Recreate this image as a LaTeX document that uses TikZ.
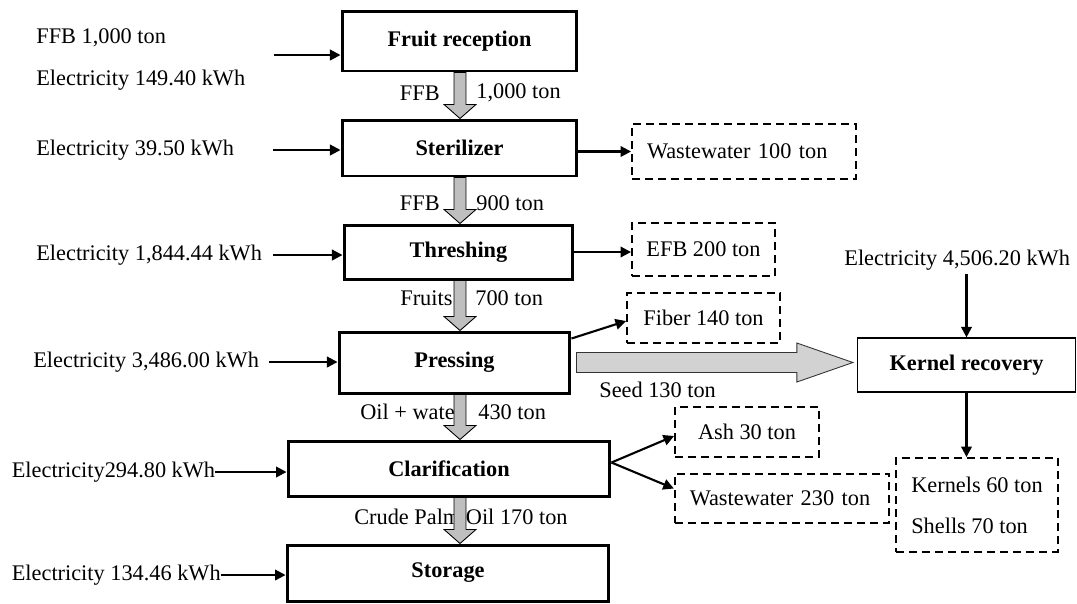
\documentclass[tikz,border=0pt]{standalone}
\usepackage{fontspec}
\setmainfont{Liberation Serif}
\usepackage{tikz}
\usetikzlibrary{arrows.meta, calc}

\newcommand{\flowfont}{\fontsize{12.7}{15}\selectfont}

\begin{document}
\begin{tikzpicture}[x=0.02cm, y=-0.02cm,
    lbl/.style={font=\flowfont, inner sep=0pt},
    proc/.style={draw, line width=1.7pt, font=\flowfont\bfseries, inner sep=0pt},
    waste/.style={draw, dash pattern=on 4.6pt off 2.8pt, line width=1.1pt,
        font=\flowfont, inner sep=0pt},
    feed/.style={line width=1.2pt, -{Triangle[length=6pt, width=6pt]}},
    flowdown/.style={draw=black, line width=0.5pt, fill=gray!50,
        to path={let \p1=(\tikztostart), \p2=(\tikztotarget) in
            (\x1-3.4pt,\y1) -- (\x1+3.4pt,\y1) -- (\x1+3.4pt,\y2+8pt)
            -- (\x1+9.1pt,\y2+8pt) -- (\x1,\y2) -- (\x1-9.1pt,\y2+8pt)
            -- (\x1-3.4pt,\y2+8pt) -- cycle}},
    flowright/.style={draw=black!80, line width=0.5pt, fill=gray!35,
        to path={let \p1=(\tikztostart), \p2=(\tikztotarget) in
            (\x1,\y1+5.7pt) -- (\x2-31.9pt,\y1+5.7pt) -- (\x2-31.9pt,\y1+11.1pt)
            -- (\x2,\y1) -- (\x2-31.9pt,\y1-11.1pt) -- (\x2-31.9pt,\y1-5.7pt)
            -- (\x1,\y1-5.7pt) -- cycle}}]

    \fill[white] (0,0) rectangle (1077,603);
    \useasboundingbox (0,0) rectangle (1077,603);

    % ============================================================
    % PROCESS STEPS
    % ============================================================
    \node[proc, minimum width=4.70cm, minimum height=1.20cm] (reception) at (459.5,41) {Fruit reception};
    \node[proc, minimum width=4.70cm, minimum height=1.12cm] (steril) at (459.5,148) {Sterilizer};
    \node[proc, minimum width=4.58cm, minimum height=1.08cm] (thresh) at (458.5,252) {Threshing};
    \node[proc, minimum width=4.62cm, minimum height=1.22cm] (press) at (454.5,362.5) {Pressing};
    \node[proc, minimum width=6.44cm, minimum height=1.10cm] (clar) at (449,468.5) {Clarification};
    \node[proc, minimum width=6.44cm, minimum height=1.12cm] (storage) at (448,573) {Storage};
    \node[proc, line width=0.7pt, minimum width=4.36cm, minimum height=1.08cm] (kernel) at (966.5,365) {Kernel recovery};

    % ============================================================
    % ELECTRICITY INPUTS
    % ============================================================
    \node[lbl, anchor=west] (ffb) at (36,38) {FFB 1,000 ton};
    \node[lbl, anchor=west] (e1) at (36,80) {Electricity 149.40 kWh};
    \node[lbl, anchor=west] (e2) at (36,150) {Electricity 39.50 kWh};
    \node[lbl, anchor=west] (e3) at (36,255) {Electricity 1,844.44 kWh};
    \node[lbl, anchor=west] (e4) at (33,362) {Electricity 3,486.00 kWh};
    \node[lbl, anchor=west] (e5) at (11.5,472) {Electricity294.80 kWh};
    \node[lbl, anchor=west] (e6) at (11.5,575) {Electricity 134.46 kWh};
    \node[lbl, anchor=west] (e7) at (844,260) {Electricity 4,506.20 kWh};

    \coordinate (in1) at (274,55);
    \draw[feed] (in1) -- (in1 -| reception.west);
    \draw[feed, shorten <=0.78cm] (e2.east) -- (e2.east -| steril.west);
    \draw[feed, shorten <=0.22cm] (e3.east) -- (e3.east -| thresh.west);
    \draw[feed, shorten <=0.2cm] (e4.east) -- (e4.east -| press.west);
    \draw[feed] (e5.east) -- (e5.east -| clar.west);
    \draw[feed] (e6.east) -- (e6.east -| storage.west);
    \draw[feed, shorten <=2pt] (e7.south -| kernel.north) -- (kernel.north);

    % ============================================================
    % WASTE STREAMS AND PRODUCTS
    % ============================================================
    \node[waste, minimum height=1.10cm, text width=3.88cm, inner xsep=0.3cm, align=left]
        (ww1) at (744,151.5) {Wastewater 100 ton};
    \node[waste, minimum width=2.86cm, minimum height=1.06cm] (efb) at (703.5,249.5) {EFB 200 ton};
    \node[waste, minimum width=3.06cm, minimum height=1.00cm] (fiber) at (703.5,318) {Fiber 140 ton};
    \node[waste, minimum width=2.88cm, minimum height=1.00cm] (ash) at (747,432) {Ash 30 ton};
    \node[waste, minimum height=0.98cm, text width=3.69cm, inner xsep=0.3cm, align=left]
        (ww2) at (782,498.5) {Wastewater 230 ton};
    \node[waste, minimum width=3.23cm, minimum height=1.88cm, align=left]
        (ks) at (977,505) {Kernels 60 ton\\[8.3pt]Shells 70 ton};

    \draw[feed] (ww1.west -| steril.east) -- (ww1.west);
    \draw[feed] (thresh.east) -- (thresh.east -| efb.west);
    \draw[feed] ([yshift=-0.16cm]press.north east) -- ([yshift=-0.06cm]fiber.west);
    \draw[feed] ([yshift=0.12cm]clar.east) -- ([yshift=-0.08cm]ash.west);
    \draw[feed] ([yshift=0.12cm]clar.east) -- ([yshift=0.2cm]ww2.west);
    \draw[feed] (kernel.south) -- (kernel.south |- ks.north);

    % ============================================================
    % MAIN FLOW LABELS
    % ============================================================
    \node[lbl, anchor=east] (l1a) at (440,93) {FFB};
    \node[lbl, anchor=west] (l1b) at (476,93) {1,000 ton};
    \node[lbl, anchor=east] (l2a) at (440,203) {FFB};
    \node[lbl, anchor=west] (l2b) at (476,203) {900 ton};
    \node[lbl, anchor=west] (l3a) at (400,298) {Fruits};
    \node[lbl, anchor=west] (l3b) at (475,298) {700 ton};
    \node[lbl, anchor=west] (l4a) at (360,412) {Oil + water};
    \node[lbl, anchor=west] (l4b) at (478,412) {430 ton};
    \node[lbl, anchor=west] (l5) at (354,517) {Crude Palm Oil 170 ton};
    \node[lbl, anchor=west] (seed) at (599,390) {Seed 130 ton};

    % ============================================================
    % MAIN FLOW ARROWS
    % ============================================================
    \coordinate (spine) at (460,0);
    \draw[flowdown] (reception.south -| spine) to (steril.north -| spine);
    \draw[flowdown] (steril.south -| spine) to (thresh.north -| spine);
    \draw[flowdown] (thresh.south -| spine) to (press.north -| spine);
    \draw[flowdown] (press.south -| spine) to (clar.north -| spine);
    \draw[flowdown] (clar.south -| spine) to (storage.north -| spine);
    \draw[flowright] ([xshift=0.1cm]press.east) to ([xshift=-0.08cm]press.east -| kernel.west);

\end{tikzpicture}
\end{document}
